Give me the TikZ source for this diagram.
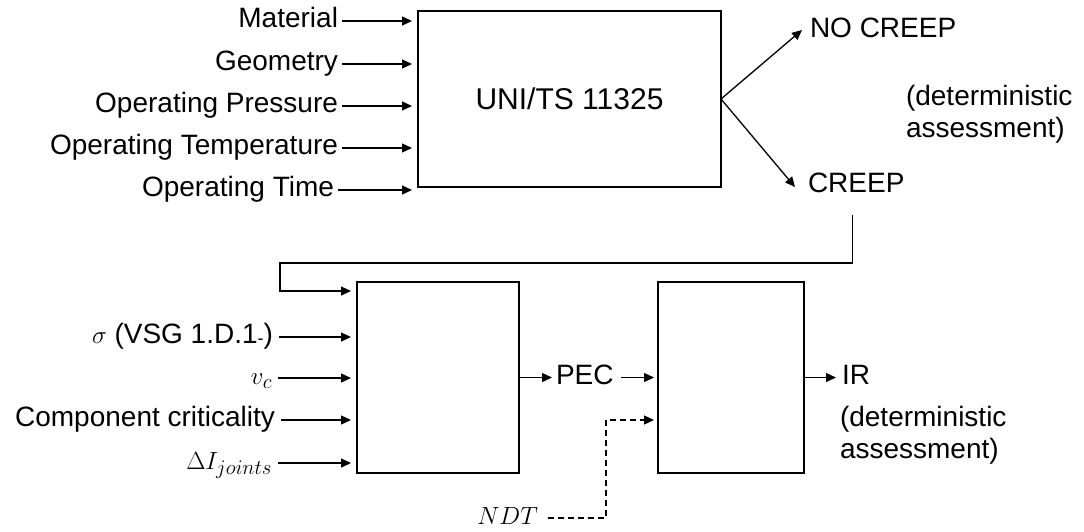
\documentclass[tikz,border=0pt]{standalone}
\usepackage{fontspec}
\setmainfont{Liberation Sans}
\usetikzlibrary{arrows.meta}

\begin{document}
\begin{tikzpicture}[x=1pt,y=-1pt,
  every node/.style={font=\fontsize{28}{32}\selectfont, inner sep=0pt, outer sep=0pt},
  lbl/.style={text height=19pt, text depth=6pt},
  block/.style={draw, line width=1.4pt},
  conn/.style={line width=1.3pt, -{Triangle[length=10pt,width=9pt]}},
  dashconn/.style={conn, dash pattern=on 6pt off 4pt}]
\useasboundingbox (0,0) rectangle (1084,531);

% first stage: standard check
\node[block, minimum width=303pt, minimum height=176pt, anchor=north west,
      font=\fontsize{30}{34}\selectfont] (uni) at (418,11) {UNI/TS 11325};

\node[lbl, anchor=east] (mat)  at (338,21)  {Material};
\node[lbl, anchor=east] (geo)  at (338,64)  {Geometry};
\node[lbl, anchor=east] (pres) at (338,106) {Operating Pressure};
\node[lbl, anchor=east] (temp) at (338,148) {Operating Temperature};
\node[lbl, anchor=east] (time) at (334,190) {Operating Time};

\foreach \n in {mat,geo,pres,temp,time}
  \draw[conn, shorten >=6pt] ([xshift=4pt]\n.east) -- (\n.east -| uni.west);

\node[lbl, anchor=west] (nocreep) at (810,31)  {NO CREEP};
\node[lbl, anchor=west] (creep)   at (808,186) {CREEP};
\node[anchor=west, align=left] (note1) at (906,114) {(deterministic\\assessment)};

\draw[conn] (uni.east) -- ([xshift=-8pt,yshift=1pt]nocreep.west);
\draw[conn] (uni.east) -- ([xshift=-13pt,yshift=-1pt]creep.west);

% second stage
\node[block, minimum width=162pt, minimum height=191pt, anchor=north west] (calc) at (357,282) {};
\node[block, minimum width=146pt, minimum height=191pt, anchor=north west] (eval) at (658,282) {};

\coordinate (bend) at (280,263);
\coordinate (calcin) at (357,291);
\draw[conn, shorten >=6pt] ([xshift=-4pt,yshift=-16pt]creep.south) |- (bend) |- (calcin);

\node[lbl, anchor=east] (sig)  at (273,337) {$\sigma$ (VSG 1.D.1\raisebox{-1pt}{\fontsize{18}{20}\selectfont -})};
\node[lbl, anchor=east] (vc)   at (272,378) {$v_c$};
\node[lbl, anchor=east] (crit) at (275,420) {Component criticality};
\node[lbl, anchor=east] (dI)   at (272,463) {$\Delta I_{joints}$};

\foreach \n in {sig,vc,crit,dI}
  \draw[conn, shorten >=6pt] ([xshift=6pt]\n.east) -- (\n.east -| calc.west);

\node[lbl, anchor=west] (pec) at (556,377.5) {PEC};
\draw[conn, shorten >=4pt] (calc.east) -- (pec.west);
\draw[conn, shorten >=4pt] ([xshift=7pt]pec.east) -- (eval.west);

\node[lbl, anchor=west] (ir) at (842,377.5) {IR};
\node[anchor=north west, align=left] (note2) at (840,406) {(deterministic\\assessment)};
\draw[conn, shorten >=6pt] (eval.east) -- (ir.west);

\node[lbl, anchor=east] (ndt) at (538,518) {$NDT$};
\coordinate (dturn) at (606,420);
\draw[dashconn, shorten >=4pt] ([xshift=10pt]ndt.east) -| (dturn) -- (dturn -| eval.west);
\end{tikzpicture}
\end{document}
